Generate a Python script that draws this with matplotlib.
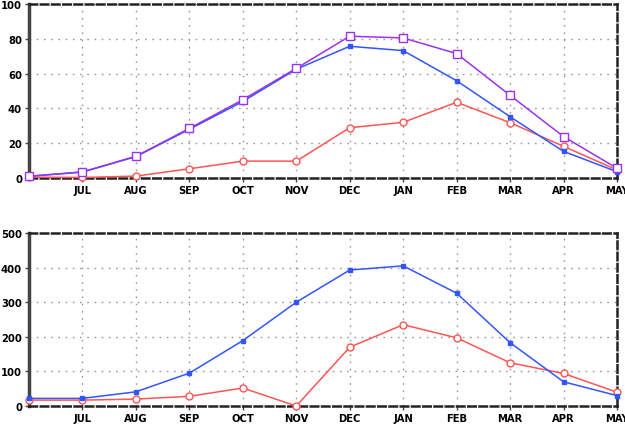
import matplotlib
matplotlib.use('Agg')
import matplotlib.pyplot as plt
from matplotlib import font_manager
import numpy as np

names = set(f.name for f in font_manager.fontManager.ttflist)
fam = 'Liberation Sans Narrow' if 'Liberation Sans Narrow' in names else 'DejaVu Sans'
plt.rcParams['font.family'] = [fam, 'DejaVu Sans']
plt.rcParams['font.stretch'] = 'condensed'

months = ['JUN', 'JUL', 'AUG', 'SEP', 'OCT', 'NOV', 'DEC', 'JAN', 'FEB', 'MAR', 'APR', 'MAY']

# top panel
top_purple = [1.0, 3.5, 12.5, 28.5, 45.0, 63.0, 81.5, 80.5, 71.5, 47.5, 23.8, 5.6]
top_blue = [1.0, 3.4, 12.3, 28.0, 44.0, 62.5, 75.7, 73.2, 55.9, 35.2, 15.3, 3.6]
top_red = [0.5, 0.3, 1.1, 5.3, 9.7, 9.7, 28.9, 32.0, 43.5, 31.8, 18.2, 4.6]

# bottom panel
bot_blue = [22, 22, 41, 95, 189, 300, 393, 405, 326, 183, 70, 30]
bot_red = [17, 17, 20, 28, 52, 0, 170, 235, 197, 125, 94, 40]

c_blue = '#3355ff'
c_red = '#ff5555'
c_purple = '#9933ee'

x = np.arange(len(months))

fig = plt.figure(figsize=(6.25, 4.27), dpi=100)
ax1 = fig.add_axes([29/625, 1 - 179/427, 588/625, 174/427])
ax2 = fig.add_axes([29/625, 1 - 407/427, 588/625, 173/427])


def style(ax, ymax, step):
    ax.set_xlim(0, 11)
    ax.set_ylim(0, ymax)
    ax.set_xticks(x[1:])
    ax.set_xticklabels(months[1:])
    ax.set_yticks(np.arange(0, ymax + 1, step))
    ax.grid(True, color='#999999', linestyle=(0, (1.2, 4)), linewidth=1.0)
    ax.tick_params(axis='both', direction='out', length=3, width=1, color='#444444',
                   labelsize=8, pad=2)
    for lab in ax.get_xticklabels() + ax.get_yticklabels():
        lab.set_fontweight('bold')
    ax.spines['left'].set_color('#444444')
    ax.spines['left'].set_linewidth(2.5)
    for s in ['top', 'right', 'bottom']:
        ax.spines[s].set_linestyle((0, (3, 1.5)))
        ax.spines[s].set_linewidth(1.8)
        ax.spines[s].set_color('#222222')


ax1.plot(x, top_red, color=c_red, lw=1.1, marker='o', ms=5, mfc='white', mec=c_red, mew=1.0, clip_on=False, zorder=3)
ax1.plot(x, top_blue, color=c_blue, lw=1.1, marker='s', ms=3.5, mfc=c_blue, mec=c_blue, clip_on=False, zorder=4)
ax1.plot(x, top_purple, color=c_purple, lw=1.1, marker='s', ms=6, mfc='white', mec=c_purple, mew=1.0, clip_on=False, zorder=5)
style(ax1, 100, 20)

ax2.plot(x, bot_red, color=c_red, lw=1.1, marker='o', ms=5, mfc='white', mec=c_red, mew=1.0, clip_on=False, zorder=3)
ax2.plot(x, bot_blue, color=c_blue, lw=1.1, marker='s', ms=3.5, mfc=c_blue, mec=c_blue, clip_on=False, zorder=4)
style(ax2, 500, 100)

fig.savefig('out.png', dpi=100)
